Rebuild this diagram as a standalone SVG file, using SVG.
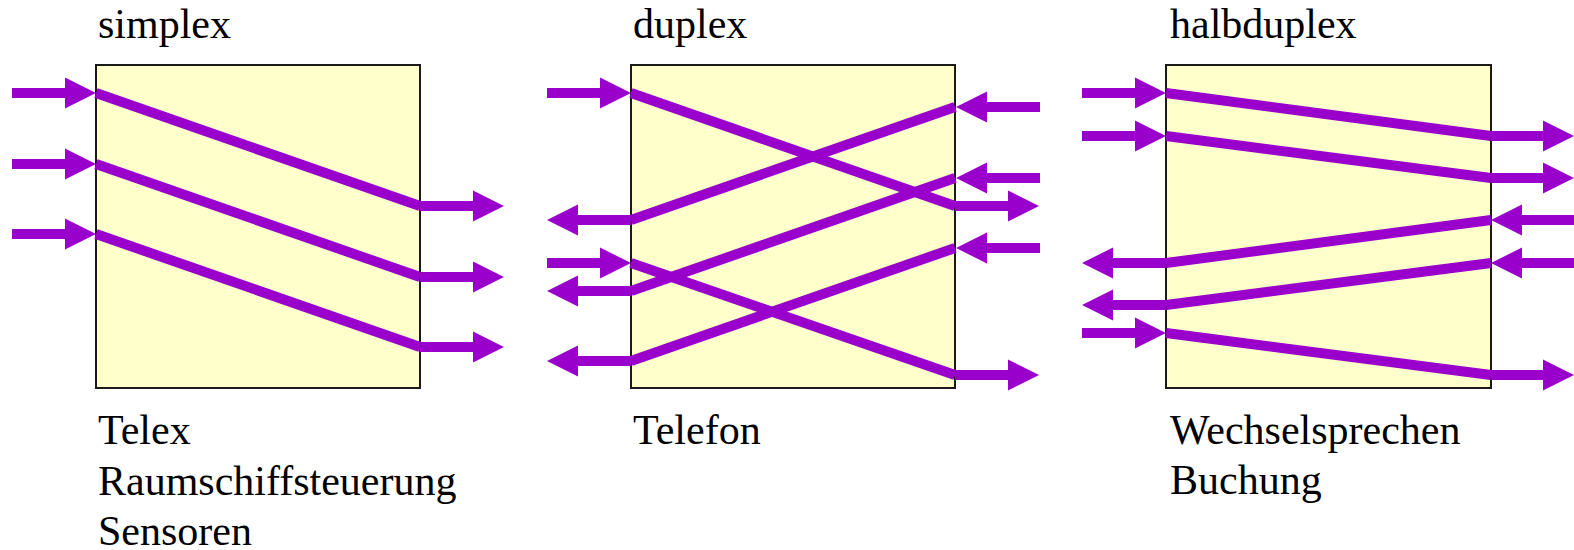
<svg xmlns="http://www.w3.org/2000/svg" width="1574" height="550" viewBox="0 0 1574 550">
  <style>
    .box { fill: #FFFFCC; stroke: #1a1a1a; stroke-width: 2; }
    .lbl { font-family: "Liberation Serif", "Times New Roman", serif; font-size: 42px; fill: #000; }
    .c { stroke: #9900CC; stroke-width: 10; fill: none; stroke-linecap: butt; }
    .a { stroke: #9900CC; stroke-width: 10; fill: none; stroke-linecap: butt; marker-end: url(#head); }
  </style>
  <defs>
    <marker id="head" markerUnits="userSpaceOnUse" markerWidth="32" markerHeight="32" refX="0" refY="15.5" orient="auto" overflow="visible">
      <path d="M0,0 L31,15.5 L0,31 Z" fill="#9900CC"/>
    </marker>
  </defs>

  <g id="node-simplex">
    <rect class="box" x="96" y="65" width="324" height="323"/>
    <text class="lbl" x="98" y="38">simplex</text>
    <text class="lbl" x="98" y="444">Telex</text>
    <text class="lbl" x="98" y="495">Raumschiffsteuerung</text>
    <text class="lbl" x="98" y="545">Sensoren</text>
  </g>
  <g id="node-duplex">
    <rect class="box" x="631" y="65" width="324" height="323"/>
    <text class="lbl" x="633" y="38">duplex</text>
    <text class="lbl" x="633" y="444">Telefon</text>
  </g>
  <g id="node-halbduplex">
    <rect class="box" x="1166" y="65" width="325" height="323"/>
    <text class="lbl" x="1170" y="38">halbduplex</text>
    <text class="lbl" x="1170" y="444">Wechselsprechen</text>
    <text class="lbl" x="1170" y="494">Buchung</text>
  </g>

  <g id="connectors">
    <!-- simplex -->
    <line class="a" x1="12" y1="93" x2="65" y2="93"/>
    <line class="c" x1="96" y1="93" x2="420" y2="206"/>
    <line class="a" x1="420" y1="206" x2="473" y2="206"/>

    <line class="a" x1="12" y1="164" x2="65" y2="164"/>
    <line class="c" x1="96" y1="164" x2="420" y2="277"/>
    <line class="a" x1="420" y1="277" x2="473" y2="277"/>

    <line class="a" x1="12" y1="234" x2="65" y2="234"/>
    <line class="c" x1="96" y1="234" x2="420" y2="347"/>
    <line class="a" x1="420" y1="347" x2="473" y2="347"/>

    <!-- duplex -->
    <line class="a" x1="547" y1="93" x2="600" y2="93"/>
    <line class="c" x1="631" y1="93" x2="955" y2="206"/>
    <line class="a" x1="955" y1="206" x2="1008" y2="206"/>

    <line class="a" x1="547" y1="263" x2="600" y2="263"/>
    <line class="c" x1="631" y1="263" x2="955" y2="375"/>
    <line class="a" x1="955" y1="375" x2="1008" y2="375"/>

    <line class="a" x1="1040" y1="107" x2="987" y2="107"/>
    <line class="c" x1="955" y1="107" x2="631" y2="220"/>
    <line class="a" x1="631" y1="220" x2="578" y2="220"/>

    <line class="a" x1="1040" y1="178" x2="987" y2="178"/>
    <line class="c" x1="955" y1="178" x2="631" y2="291"/>
    <line class="a" x1="631" y1="291" x2="578" y2="291"/>

    <line class="a" x1="1040" y1="248" x2="987" y2="248"/>
    <line class="c" x1="955" y1="248" x2="631" y2="361"/>
    <line class="a" x1="631" y1="361" x2="578" y2="361"/>

    <!-- halbduplex -->
    <line class="a" x1="1082" y1="93" x2="1135" y2="93"/>
    <line class="c" x1="1166" y1="93" x2="1491" y2="136"/>
    <line class="a" x1="1491" y1="136" x2="1543" y2="136"/>

    <line class="a" x1="1082" y1="136" x2="1135" y2="136"/>
    <line class="c" x1="1166" y1="136" x2="1491" y2="178"/>
    <line class="a" x1="1491" y1="178" x2="1543" y2="178"/>

    <line class="a" x1="1082" y1="333" x2="1135" y2="333"/>
    <line class="c" x1="1166" y1="333" x2="1491" y2="375"/>
    <line class="a" x1="1491" y1="375" x2="1543" y2="375"/>

    <line class="a" x1="1580" y1="220" x2="1522" y2="220"/>
    <line class="c" x1="1491" y1="220" x2="1166" y2="263"/>
    <line class="a" x1="1166" y1="263" x2="1113" y2="263"/>

    <line class="a" x1="1580" y1="263" x2="1522" y2="263"/>
    <line class="c" x1="1491" y1="263" x2="1166" y2="305"/>
    <line class="a" x1="1166" y1="305" x2="1113" y2="305"/>
  </g>
</svg>
